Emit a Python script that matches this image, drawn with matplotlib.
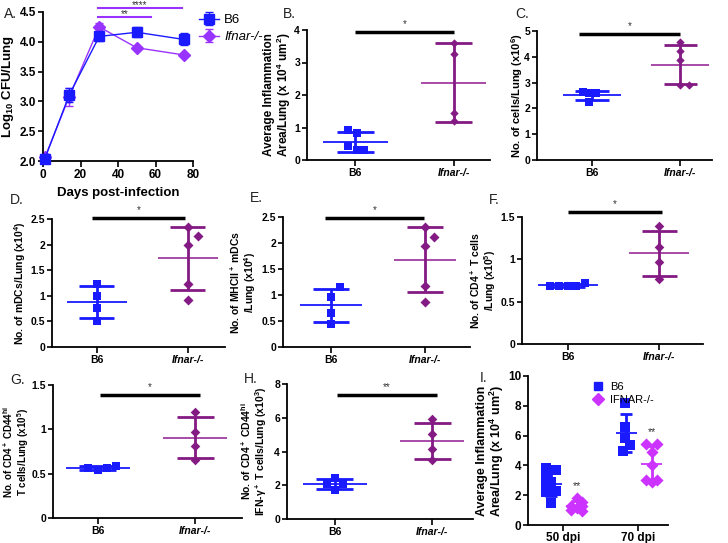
import numpy as np
import matplotlib
matplotlib.use('Agg')
import matplotlib.pyplot as plt
from matplotlib.lines import Line2D

plt.rcParams['font.family'] = ['Liberation Sans', 'DejaVu Sans']
plt.rcParams['mathtext.fontset'] = 'custom'
plt.rcParams['mathtext.rm'] = 'Liberation Sans:bold'
plt.rcParams['mathtext.it'] = 'Liberation Sans:bold:italic'
plt.rcParams['mathtext.bf'] = 'Liberation Sans:bold'
plt.rcParams['mathtext.default'] = 'rm'

# colours
BLUE = '#1a1aff'
VIOLET = '#9933ff'
PURPLE = '#841a84'
PURPLE_MEAN = '#a03ca0'
MAGENTA = '#cc33ff'

# A: lung CFU time course
days = [1, 14, 30, 50, 75]
cfu_b6 = [2.04, 3.11, 4.09, 4.16, 4.04]
cfu_b6_err = [0.07, 0.12, 0.08, 0.08, 0.10]
cfu_ko = [2.06, 3.08, 4.25, 3.90, 3.78]
cfu_ko_err = [0.04, 0.15, 0.07, 0.02, 0.02]

# B-H: B6 vs Ifnar-/- scatter values
infl_b6 = [0.91, 0.83, 0.42, 0.30, 0.30]
infl_ko = [3.61, 3.25, 1.46, 1.20]
cells_b6 = [2.62, 2.58, 2.25, 2.60]
cells_ko = [4.58, 4.23, 3.89, 2.90, 2.90]
mdc_b6 = [1.24, 1.00, 0.76, 0.50]
mdc_ko = [2.34, 2.16, 1.99, 1.24, 0.92]
mhc_b6 = [1.15, 0.96, 0.66, 0.44]
mhc_ko = [2.31, 2.12, 1.94, 1.17, 0.87]
cd4_b6 = [0.69, 0.68, 0.68, 0.69, 0.72]
cd4_ko = [1.39, 1.15, 0.97, 0.77]
cd44_b6 = [0.565, 0.54, 0.565, 0.585]
cd44_ko = [1.20, 0.97, 0.81, 0.65]
ifng_b6 = [2.45, 2.05, 2.05, 1.72]
ifng_ko = [5.93, 5.02, 4.16, 3.47]

# I: inflammation at 50 and 70 dpi
dpi_labels = ['50 dpi', '70 dpi']
i_b6_50 = [3.85, 3.70, 3.20, 2.90, 2.60, 2.25, 2.20, 1.50]
i_ko_50 = [1.80, 1.55, 1.30, 1.25, 1.15, 1.00, 0.95]
i_b6_70 = [8.20, 6.55, 5.85, 5.35, 5.00]
i_ko_70 = [5.45, 5.45, 4.90, 4.05, 3.05, 3.00, 2.90]

W, H = 728, 543
fig = plt.figure(figsize=(W / 100, H / 100), dpi=100)


def px_axes(left, right, top, bottom):
    return fig.add_axes([left / W, 1 - bottom / H, (right - left) / W, (bottom - top) / H])


def style(ax, fs, xpad=2):
    for s in ['top', 'right']:
        ax.spines[s].set_visible(False)
    for s in ['left', 'bottom']:
        ax.spines[s].set_linewidth(1.3)
    ax.tick_params(direction='out', length=4, width=1.2, labelsize=fs, pad=2)
    ax.tick_params(axis='y', length=3.5, pad=1.5)
    ax.tick_params(axis='x', pad=xpad)
    for lab in ax.get_xticklabels() + ax.get_yticklabels():
        lab.set_fontweight('bold')


def place_ylabel(ax, box, right_px):
    # right edge of the rotated y label, in figure pixels
    ax.yaxis.set_label_coords((right_px - box[0]) / (box[1] - box[0]), 0.5)


def group(ax, x, vals, offs, col, mcol, marker, s, half_mean=0.33, half_cap=0.19):
    vals = np.asarray(vals)
    m = vals.mean()
    sd = vals.std(ddof=1)
    ax.hlines(m, x - half_mean, x + half_mean, color=mcol, lw=1.3, zorder=2)
    ax.vlines(x, m - sd, m + sd, color=col, lw=2, zorder=2)
    ax.hlines([m - sd, m + sd], x - half_cap, x + half_cap, color=col, lw=2, zorder=2)
    ax.scatter(x + np.asarray(offs), vals, marker=marker, s=s, color=col,
               linewidths=0, zorder=3, clip_on=False)


def letter(x, y, t):
    fig.text(x / W, 1 - y / H, t, fontsize=10, ha='left', va='center', color='#222222')


# ---------- A ----------
box_a = (43, 193, 12, 161)
ax = px_axes(*box_a)
ax.errorbar(days, cfu_b6, yerr=cfu_b6_err, color=BLUE, marker='s', ms=7, lw=1,
            capsize=3, elinewidth=1, label='B6', zorder=3, clip_on=False)
ax.errorbar(days, cfu_ko, yerr=cfu_ko_err, color=VIOLET, marker='D', ms=6, lw=1,
            capsize=3, elinewidth=1, label='Ifnar-/-', zorder=2, clip_on=False)
ax.set_xlim(0, 80)
ax.set_ylim(2.0, 4.5)
ax.set_xticks([0, 20, 40, 60, 80])
ax.set_yticks([2.0, 2.5, 3.0, 3.5, 4.0, 4.5])
ax.set_yticklabels([f'{v:.1f}' for v in [2.0, 2.5, 3.0, 3.5, 4.0, 4.5]])
ax.set_ylabel(r'Log$_{10}$ CFU/Lung', fontsize=9.5, fontweight='bold')
place_ylabel(ax, box_a, 16)
ax.set_xlabel('Days post-infection', fontsize=9.5, fontweight='bold', labelpad=4)
style(ax, 8.5)
for y, xe, t in [(4.41, 57.5, '**'), (4.56, 74, '****')]:
    ax.plot([29.5, xe], [y, y], color=VIOLET, lw=1.5, clip_on=False)
    ax.annotate(t, xy=((29.5 + xe) / 2, y), xytext=(0, -1.5), textcoords='offset points',
                ha='center', va='bottom', fontsize=7, color='#333333', annotation_clip=False)
leg = ax.legend(loc='upper left', bbox_to_anchor=(190 / W, 1 - 5 / H),
                bbox_transform=fig.transFigure, frameon=False, fontsize=9.5,
                handlelength=1.5, handletextpad=0.4, labelspacing=0.35, borderpad=0.2)
leg.get_texts()[1].set_fontstyle('italic')
letter(4, 14, 'A.')

# ---------- B-H ----------
lbl_infl = 'Average Inflammation\nArea/Lung (x 10$^4$ um$^2$)'
panels = [
    # letter, letter pos, axes px (l, r, t, b), label right px, xlim, ylim, yticks, ylabel, fs,
    # b6, b6 jitter, ko, ko jitter, bar y, bar span, star, marker sizes
    ('B.', (283, 14), (307, 490, 30, 160), 293, (-0.49, 1.37), (0, 4), [0, 1, 2, 3, 4],
     lbl_infl, 8.5, infl_b6, [-0.07, 0.02, -0.07, 0.02, 0.09], infl_ko, [0, 0, 0, 0],
     3.95, (0, 1), '*', (26, 18)),
    ('C.', (515, 14), (537, 712, 31, 160), 525, (-0.625, 1.36), (0, 5), [0, 1, 2, 3, 4, 5],
     'No. of cells/Lung (x10$^6$)', 8, cells_b6, [-0.1, 0.04, -0.03, -0.03], cells_ko,
     [0, 0, 0, 0, 0.1], 4.9, (-0.15, 1.0), '*', (26, 18)),
    ('D.', (10, 200), (52, 225, 219, 347), 28, (-0.49, 1.41), (0, 2.5), [0, 0.5, 1, 1.5, 2, 2.5],
     'No. of mDCs/Lung (x10$^4$)', 7.5, mdc_b6, [0, 0, 0, 0], mdc_ko, [0, 0.11, 0, 0, 0],
     2.52, (-0.05, 0.97), '*', (32, 26)),
    ('E.', (250, 198), (283, 470, 217, 347), 258, (-0.51, 1.48), (0, 2.5), [0, 0.5, 1, 1.5, 2, 2.5],
     'No. of MHCII$^+$ mDCs\n/Lung (x10$^4$)', 7.5, mhc_b6, [0.1, 0, 0, 0], mhc_ko,
     [0, 0.1, 0, 0, 0], 2.48, (-0.06, 0.99), '*', (30, 26)),
    ('F.', (489, 200), (522, 703, 217, 344), 498, (-0.505, 1.48), (0, 1.5), [0, 0.5, 1, 1.5],
     'No. of CD4$^+$ T cells\n/Lung (x10$^5$)', 7.5, cd4_b6, [-0.2, -0.1, 0, 0.09, 0.19], cd4_ko,
     [0, 0, 0, 0], 1.555, (0, 1.03), '*', (26, 24)),
    ('G.', (10, 380), (53, 242, 385, 518), 31, (-0.46, 1.48), (0, 1.5), [0, 0.5, 1, 1.5],
     'No. of CD4$^+$ CD44$^{hi}$\nT cells/Lung (x10$^5$)', 7, cd44_b6, [-0.1, 0, 0.09, 0.19],
     cd44_ko, [0, 0, 0, 0], 1.39, (0.02, 1.05), '*', (26, 24)),
    ('H.', (244, 379), (287, 473, 384, 519), 269, (-0.49, 1.42), (0, 8), [0, 2, 4, 6, 8],
     'No. of CD4$^+$ CD44$^{hi}$\nIFN-γ$^+$ T cells/Lung (x10$^3$)', 7.5, ifng_b6,
     [0, -0.08, 0.08, 0], ifng_ko, [0, 0, 0, 0], 7.33, (0.02, 1.05), '**', (26, 24)),
]

for (let, lpos, box, lab_px, xlim, ylim, yt, ylab, fs, b6, b6j, ko, koj, bary, span, star,
     ms) in panels:
    ax = px_axes(*box)
    group(ax, 0, b6, b6j, BLUE, BLUE, 's', ms[0])
    group(ax, 1, ko, koj, PURPLE, PURPLE_MEAN, 'D', ms[1])
    ax.set_xlim(*xlim)
    ax.set_ylim(*ylim)
    ax.set_yticks(yt)
    ax.set_yticklabels([f'{v:g}' for v in yt])
    ax.set_xticks([0, 1])
    ax.set_xticklabels(['B6', 'Ifnar-/-'])
    ax.set_ylabel(ylab, fontsize=fs, fontweight='bold', linespacing=1.0)
    place_ylabel(ax, box, lab_px)
    style(ax, 7.5)
    ax.get_xticklabels()[1].set_fontstyle('italic')
    ax.plot(span, [bary, bary], color='black', lw=2.5, clip_on=False, solid_capstyle='butt')
    ax.annotate(star, xy=(sum(span) / 2, bary), xytext=(0, 2), textcoords='offset points',
                ha='center', va='bottom', fontsize=7, color='#333333', annotation_clip=False)
    letter(lpos[0], lpos[1], let)

# ---------- I ----------
box_i = (528, 668, 376, 525)
ax = px_axes(*box_i)
groups_i = [(0, i_b6_50, i_ko_50), (1, i_b6_70, i_ko_70)]
jit_b6 = [[-0.07, 0.07, -0.07, 0.0, -0.07, 0.07, -0.07, 0.0], [-0.02, -0.02, -0.02, 0.05, -0.04]]
jit_ko = [[0, 0.07, -0.07, 0.07, 0, -0.07, 0.07], [-0.07, 0.07, 0, 0, -0.07, 0.07, 0]]
for k, (x, b6, ko) in enumerate(groups_i):
    group(ax, x - 0.16, b6, jit_b6[k], BLUE, BLUE, 's', 42, half_mean=0.14, half_cap=0.08)
    group(ax, x + 0.18, ko, jit_ko[k], MAGENTA, MAGENTA, 'D', 38, half_mean=0.14, half_cap=0.08)
    ax.annotate('**', xy=(x + 0.18, max(ko)), xytext=(0, 5), textcoords='offset points',
                ha='center', va='bottom', fontsize=7.5, color='#333333')
ax.set_xlim(-0.47, 1.4)
ax.set_ylim(0, 10)
ax.set_yticks([0, 2, 4, 6, 8, 10])
ax.set_xticks([0, 1])
ax.set_xticklabels(dpi_labels)
ax.set_ylabel(lbl_infl, fontsize=9, fontweight='bold', linespacing=1.0)
place_ylabel(ax, box_i, 506)
style(ax, 8.5, xpad=1)
handles = [Line2D([], [], color=BLUE, marker='s', ls='none', ms=6),
           Line2D([], [], color=MAGENTA, marker='D', ls='none', ms=6)]
fig.legend(handles, ['B6', 'IFNAR-/-'], loc='upper left', bbox_to_anchor=(582 / W, 1 - 372 / H),
           frameon=False, fontsize=8, handlelength=1.0, handletextpad=0.6, labelspacing=0.3)
letter(480, 378, 'I.')

fig.savefig('out.png', dpi=100)
